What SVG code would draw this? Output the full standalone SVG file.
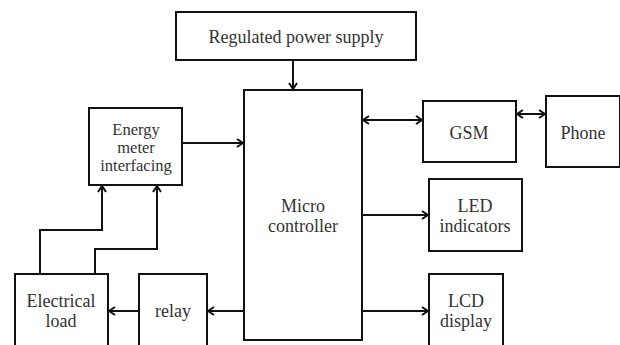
<svg xmlns="http://www.w3.org/2000/svg" width="620" height="345" viewBox="0 0 620 345">
<defs>
<style>
.box{fill:#fff;stroke:#111;stroke-width:2}
text{font-family:'Liberation Serif','Times New Roman',Times,serif;font-size:18px;fill:#333;text-anchor:middle}
.s{font-size:16.5px}
.c{fill:none;stroke:#111;stroke-width:2}
</style>
<marker id="ah" viewBox="0 0 10 10" refX="9" refY="5" markerWidth="10" markerHeight="10" markerUnits="userSpaceOnUse" orient="auto-start-reverse">
<path d="M3,1 L9,5 L3,9" fill="none" stroke="#111" stroke-width="2"/>
</marker>
</defs>
<rect width="620" height="345" fill="#fff"/>
<g font-family="Liberation Serif, serif">
<g id="power"><rect class="box" x="176" y="12" width="240" height="48"/><text x="296" y="43">Regulated power supply</text></g>
<g id="micro"><rect class="box" x="244" y="90" width="118" height="250"/><text x="303" y="212">Micro</text><text x="303" y="232">controller</text></g>
<g id="energy"><rect class="box" x="89" y="108" width="93" height="77"/><text class="s" x="136" y="135">Energy</text><text class="s" x="136" y="153">meter</text><text class="s" x="136" y="171">interfacing</text></g>
<g id="gsm"><rect class="box" x="423" y="101" width="93" height="61"/><text x="469" y="139">GSM</text></g>
<g id="phone"><rect class="box" x="546" y="96" width="74" height="71"/><text x="583" y="139">Phone</text></g>
<g id="led"><rect class="box" x="429" y="179" width="93" height="72"/><text x="475" y="212">LED</text><text x="475" y="232">indicators</text></g>
<g id="lcd"><rect class="box" x="429" y="274" width="74" height="80"/><text x="466" y="307">LCD</text><text x="466" y="327">display</text></g>
<g id="relay"><rect class="box" x="139" y="274" width="68" height="80"/><text x="173" y="317">relay</text></g>
<g id="load"><rect class="box" x="15" y="274" width="93" height="80"/><text x="61" y="307">Electrical</text><text x="61" y="327">load</text></g>
</g>
<g id="connectors">
<path class="c" d="M293,60 V89" marker-end="url(#ah)"/>
<path class="c" d="M182,143 H243" marker-end="url(#ah)"/>
<path class="c" d="M363,120 H422" marker-start="url(#ah)" marker-end="url(#ah)"/>
<path class="c" d="M517,114 H545" marker-start="url(#ah)" marker-end="url(#ah)"/>
<path class="c" d="M362,215 H428" marker-end="url(#ah)"/>
<path class="c" d="M362,311 H428" marker-end="url(#ah)"/>
<path class="c" d="M244,311 H208" marker-end="url(#ah)"/>
<path class="c" d="M139,311 H109" marker-end="url(#ah)"/>
<path class="c" d="M40,274 V230 H102 V186" marker-end="url(#ah)"/>
<path class="c" d="M95,274 V249 H157 V186" marker-end="url(#ah)"/>
</g>
</svg>
